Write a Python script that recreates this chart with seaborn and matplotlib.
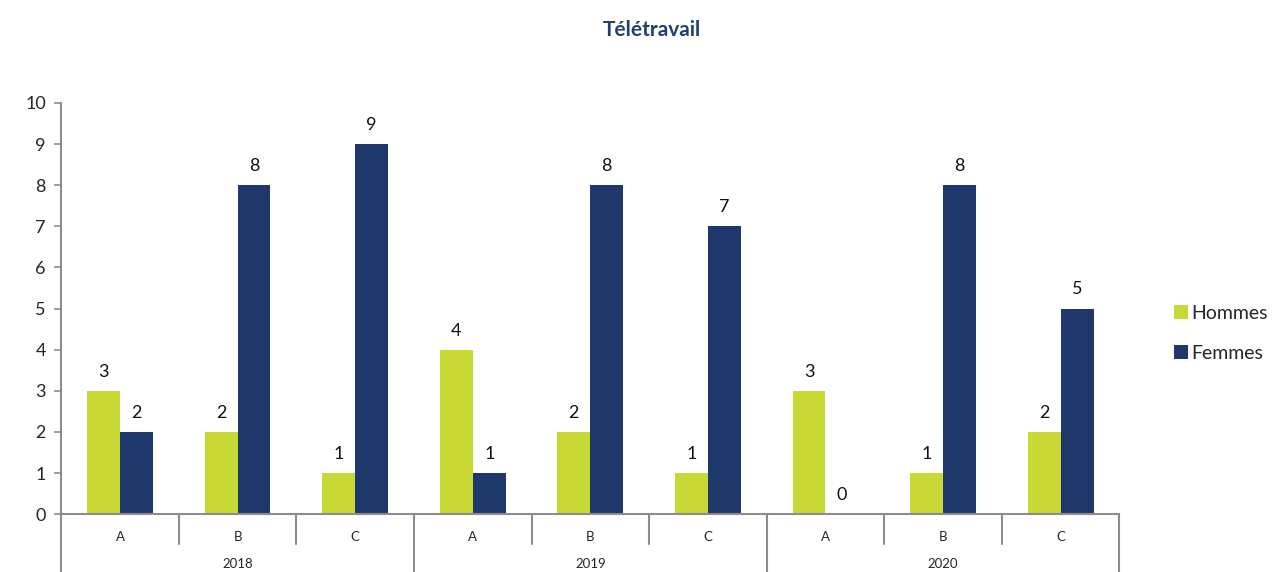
import pandas as pd
import seaborn as sns
import matplotlib.pyplot as plt
import matplotlib.transforms as mtransforms

# data
years = ['2018', '2019', '2020']
grades = ['A', 'B', 'C']
hommes = [3, 2, 1, 4, 2, 1, 3, 1, 2]
femmes = [2, 8, 9, 1, 8, 7, 0, 8, 5]

GREEN = '#C8D936'
NAVY = '#1F386C'
GREY = '#8C8C8C'

#--------------------------------------------------------------------------------------------------

cats = [f'{y}-{g}' for y in years for g in grades]
df = pd.DataFrame({
    'cat': cats * 2,
    'sexe': ['Hommes'] * len(cats) + ['Femmes'] * len(cats),
    'valeur': hommes + femmes,
})

sns.set_style('white')
plt.rcParams['font.family'] = ['Lato', 'DejaVu Sans']

fig = plt.figure(figsize=(12.75, 5.72), dpi=100)
ax = fig.add_axes([0.048, 0.101, 0.830, 0.719])

sns.barplot(data=df, x='cat', y='valeur', hue='sexe', order=cats,
            hue_order=['Hommes', 'Femmes'], palette=[GREEN, NAVY],
            width=0.56, saturation=1, gap=0, linewidth=0, ax=ax)

# value labels
for cont in ax.containers:
    ax.bar_label(cont, fmt='%d', padding=8, fontsize=13, color='#111111')

ax.set_ylim(0, 10)
ax.set_xlim(-0.5, len(cats) - 0.5)
ax.set_yticks(range(0, 11))
ax.tick_params(axis='y', labelsize=13, length=5, width=1.2, color=GREY,
               direction='out', left=True, pad=6)
ax.set_xticks(range(len(cats)))
ax.set_xticklabels(grades * len(years), fontsize=9.5)
ax.tick_params(axis='x', length=0, pad=12)
ax.set_xlabel('')
ax.set_ylabel('')

for side in ['top', 'right']:
    ax.spines[side].set_visible(False)
for side in ['left', 'bottom']:
    ax.spines[side].set_color(GREY)
    ax.spines[side].set_linewidth(1.5)

# category separators below the axis
trans = mtransforms.blended_transform_factory(ax.transData, ax.transAxes)
for i in range(len(cats) + 1):
    xpos = i - 0.5
    if i % 3 == 0:
        ax.plot([xpos, xpos], [0, -0.2], transform=trans, color=GREY,
                lw=1.5, clip_on=False)
    else:
        ax.plot([xpos, xpos], [0, -0.072], transform=trans, color=GREY,
                lw=1.5, clip_on=False)

for j, y in enumerate(years):
    ax.text(j * 3 + 1, -0.12, y, transform=trans, ha='center', va='center',
            fontsize=9.5)

leg = ax.legend(loc='center left', bbox_to_anchor=(1.035, 0.44), frameon=False,
                fontsize=14, handlelength=0.7, handleheight=0.7,
                handletextpad=0.2, labelspacing=1.2)

fig.suptitle('Télétravail', x=0.511, y=0.965, fontsize=15, fontweight='bold',
             color='#1F4070')

fig.savefig('out.png', dpi=100)
